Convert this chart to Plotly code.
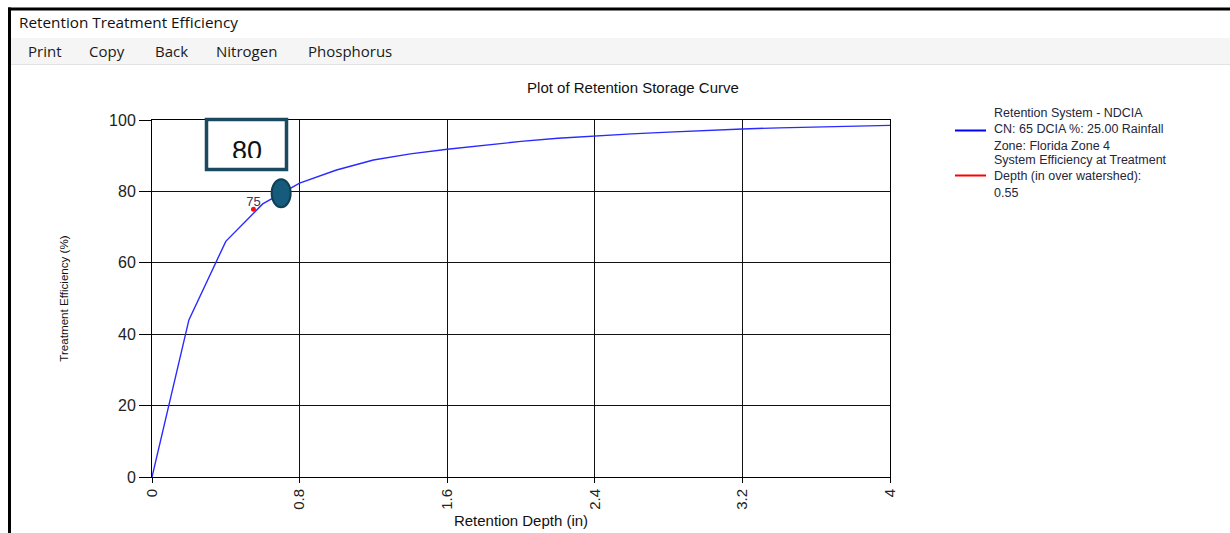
import plotly.graph_objects as go

# ---------------- data ----------------
depth_in = [0, 0.2, 0.4, 0.6, 0.8, 1.0, 1.2, 1.4, 1.6, 1.8, 2.0, 2.2, 2.4,
            2.6, 2.8, 3.0, 3.2, 3.4, 3.6, 3.8, 4.0]
efficiency_pct = [0, 44, 66, 76.5, 82.3, 86, 88.8, 90.5, 91.8, 93, 94, 94.9,
                  95.6, 96.1, 96.6, 97.1, 97.5, 97.8, 98.1, 98.3, 98.5]

treat_depth = [0.55]
treat_eff = [75]
treat_label = ["75"]

highlight_depth = 0.7
highlight_eff = 79.5
callout_text = "80"

x_ticks = [0, 0.8, 1.6, 2.4, 3.2, 4]
x_tick_labels = ["0", "0.8", "1.6", "2.4", "3.2", "4"]
y_ticks = [0, 20, 40, 60, 80, 100]

curve_name = "Retention System - NDCIA<br>CN: 65 DCIA %: 25.00 Rainfall<br>Zone: Florida Zone 4"
point_name = "System Efficiency at Treatment<br>Depth (in over watershed):<br>0.55"

window_title = "Retention Treatment Efficiency"
menu_items = ["Print", "Copy", "Back", "Nitrogen", "Phosphorus"]
menu_x = [27, 88, 154, 215, 307]

# ---------------- layout geometry ----------------
W, H = 1230, 533
L, R, T, B = 152, 340, 120, 56
PW, PH = W - L - R, H - T - B


def px(x):
    return (x - L) / PW


def py(y):
    return (H - B - y) / PH


ARIAL = "Arial, Liberation Sans, sans-serif"
UI = "Segoe UI, Open Sans, Noto Sans, sans-serif"
TXT = "#26263a"

fig = go.Figure()

fig.add_trace(go.Scatter(
    x=depth_in, y=efficiency_pct, mode="lines", name=curve_name,
    line=dict(color="#2a2aff", width=1.4), showlegend=False,
    hoverinfo="x+y"))

fig.add_trace(go.Scatter(
    x=treat_depth, y=treat_eff, mode="markers", name=point_name,
    marker=dict(color="#ff1010", size=5), showlegend=False))

fig.add_trace(go.Scatter(
    x=treat_depth, y=treat_eff, mode="text", text=treat_label,
    textposition="top center", textfont=dict(family=ARIAL, size=13, color="#3a3a55"),
    showlegend=False, hoverinfo="skip"))

shapes = []
# window frame
shapes.append(dict(type="rect", xref="paper", yref="paper", x0=px(8), x1=px(1232),
                   y0=py(10.5), y1=py(7.5), fillcolor="black", line=dict(width=0), layer="below"))
shapes.append(dict(type="rect", xref="paper", yref="paper", x0=px(8), x1=px(11),
                   y0=py(535), y1=py(7.5), fillcolor="black", line=dict(width=0), layer="below"))
# menu bar
shapes.append(dict(type="rect", xref="paper", yref="paper", x0=px(11), x1=px(1232),
                   y0=py(65), y1=py(38), fillcolor="#f5f5f5", line=dict(width=0), layer="below"))
shapes.append(dict(type="line", xref="paper", yref="paper", x0=px(11), x1=px(1232),
                   y0=py(64.5), y1=py(64.5), line=dict(color="#e2e2e2", width=1), layer="below"))

# callout box
shapes.append(dict(type="rect", xref="paper", yref="paper", x0=px(206.5), x1=px(286.5),
                   y0=py(169.5), y1=py(119.5), fillcolor="white",
                   line=dict(color="#1b4a60", width=3.5), layer="above"))
# highlight ellipse
shapes.append(dict(type="circle", xref="x", yref="y", xsizemode="pixel", ysizemode="pixel",
                   xanchor=highlight_depth, yanchor=highlight_eff, x0=-9.5, x1=9.5, y0=-14, y1=14,
                   fillcolor="#165b7c", line=dict(color="#0f3f57", width=2), layer="above"))

# legend samples
LEG_Y = [129.5, 176.5]
shapes.append(dict(type="line", xref="paper", yref="paper", x0=px(955), x1=px(986),
                   y0=py(LEG_Y[0] + 1), y1=py(LEG_Y[0] + 1), line=dict(color="#0000ff", width=2)))
shapes.append(dict(type="line", xref="paper", yref="paper", x0=px(955), x1=px(986),
                   y0=py(LEG_Y[1] - 1), y1=py(LEG_Y[1] - 1), line=dict(color="#ff0000", width=2)))

annotations = []
annotations.append(dict(text=window_title, xref="paper", yref="paper", x=px(17), y=py(21.5),
                        xanchor="left", yanchor="middle", showarrow=False,
                        font=dict(family=UI, size=15.3, color="#111")))
for name, xm in zip(menu_items, menu_x):
    annotations.append(dict(text=name, xref="paper", yref="paper", x=px(xm - 1), y=py(51),
                            xanchor="left", yanchor="middle", showarrow=False,
                            font=dict(family=UI, size=15, color="#1a1a1a")))

# callout text
annotations.append(dict(text=callout_text, xref="paper", yref="paper", x=px(246.5), y=py(151),
                        xanchor="center", yanchor="middle", showarrow=False,
                        font=dict(family=ARIAL, size=27, color="#111")))
# white cover clipping the bottom of the callout text
annotations.append(dict(text=" ", xref="paper", yref="paper", x=px(246.5), y=py(157.5),
                        xanchor="center", yanchor="top", showarrow=False, width=70, height=9,
                        bgcolor="white", borderpad=0, borderwidth=0, font=dict(size=4)))

# legend text (one block per series)
for name, yc in zip([curve_name, point_name], LEG_Y):
    annotations.append(dict(text=name, xref="paper", yref="paper", x=px(992), y=py(yc),
                            xanchor="left", yanchor="middle", align="left", showarrow=False,
                            font=dict(family=ARIAL, size=12.5, color=TXT)))

# legend red marker
fig.add_trace(go.Scatter(x=[px(970.5)], y=[py(LEG_Y[1] - 1)], xaxis="x2", yaxis="y2",
                         mode="markers", marker=dict(color="#ff0000", size=4),
                         showlegend=False, hoverinfo="skip"))

fig.update_layout(
    width=W, height=H,
    margin=dict(l=L, r=R, t=T, b=B, autoexpand=False),
    paper_bgcolor="white", plot_bgcolor="white",
    showlegend=False,
    title=dict(text="Plot of Retention Storage Curve", xref="container", x=633 / W, xanchor="center",
               yref="container", y=1 - 88 / H, yanchor="middle", automargin=False,
               font=dict(family=ARIAL, size=15, color="#111")),
    xaxis=dict(range=[0, 4], tickvals=x_ticks, ticktext=x_tick_labels, tickangle=-90,
               automargin=False,
               showgrid=True, gridcolor="#111", gridwidth=1, zeroline=False,
               showline=True, linecolor="black", linewidth=1, mirror=True,
               ticks="outside", ticklen=5, tickcolor="black",
               tickfont=dict(family=ARIAL, size=15, color="#222"),
               title=dict(text="Retention Depth (in)", standoff=6,
                          font=dict(family=ARIAL, size=15, color="#111"))),
    yaxis=dict(range=[0, 100], tickvals=y_ticks, automargin=False,
               showgrid=True, gridcolor="#111", gridwidth=1, zeroline=False,
               showline=True, linecolor="black", linewidth=1, mirror=True,
               ticks="outside", ticklen=12, tickcolor="black",
               tickfont=dict(family=ARIAL, size=16, color="#222"),
               title=dict(text="Treatment Efficiency (%)", standoff=38,
                          font=dict(family=ARIAL, size=11.6, color="#111"))),
    xaxis2=dict(domain=[0, 1], range=[0, 1], overlaying="x", visible=False, fixedrange=True,
                automargin=False),
    yaxis2=dict(domain=[0, 1], range=[0, 1], overlaying="y", visible=False, fixedrange=True,
                automargin=False),
    shapes=shapes,
    annotations=annotations,
)

fig.write_html("out.html", config={"displayModeBar": False},
               post_script="document.body.style.margin='0';")
